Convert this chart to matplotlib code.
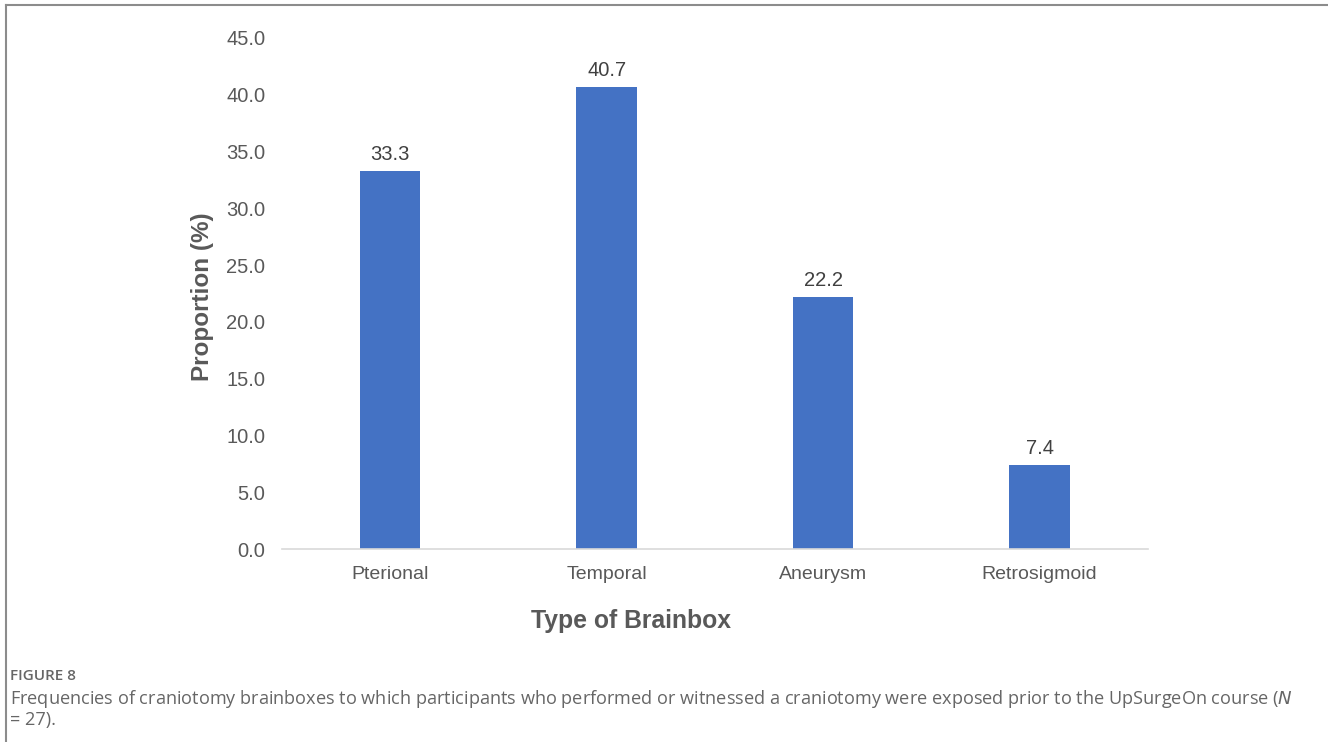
import matplotlib.pyplot as plt
from matplotlib.lines import Line2D

categories = ["Pterional", "Temporal", "Aneurysm", "Retrosigmoid"]
proportions = [33.3, 40.7, 22.2, 7.4]
y_ticks = [0, 5, 10, 15, 20, 25, 30, 35, 40, 45]

bar_color = "#4472C4"
text_color = "#595959"

fig = plt.figure(figsize=(13.28, 7.42), dpi=100)
ax = fig.add_axes([0.2123, 0.2601, 0.6521, 0.6887])

positions = range(len(categories))
bars = ax.bar(positions, proportions, width=0.28, color=bar_color, zorder=2)

for bar, value in zip(bars, proportions):
    ax.text(
        bar.get_x() + bar.get_width() / 2,
        value + 0.6,
        f"{value:.1f}",
        ha="center",
        va="bottom",
        fontsize=14.5,
        color="#404040",
        family="Liberation Sans",
    )

ax.set_xlim(-0.5, 3.5)
ax.set_ylim(0, 45)
ax.set_xticks(list(positions))
ax.set_xticklabels(categories, fontsize=14, color=text_color, family="Liberation Sans")
ax.set_yticks(y_ticks)
ax.set_yticklabels([f"{t:.1f}" for t in y_ticks], fontsize=14.5, color=text_color,
                   family="Liberation Sans")
ax.tick_params(axis="both", length=0)
ax.tick_params(axis="y", pad=12)
ax.tick_params(axis="x", pad=12)

for side in ["top", "right", "left"]:
    ax.spines[side].set_visible(False)
ax.spines["bottom"].set_color("#D9D9D9")
ax.spines["bottom"].set_linewidth(1.2)

ax.set_ylabel("Proportion (%)", fontsize=17.5, fontweight="bold", color=text_color,
              family="Liberation Sans")
ax.yaxis.set_label_coords(-0.078, 0.493)
ax.set_xlabel("Type of Brainbox", fontsize=17.8, fontweight="bold", color=text_color,
              family="Liberation Sans")
ax.xaxis.set_label_coords(0.403, -0.117)

# outer frame (top and left edges)
fig.add_artist(Line2D([6 / 1328, 1.0], [1 - 5 / 742, 1 - 5 / 742],
                      transform=fig.transFigure, color="#8C8C8C", linewidth=1.5))
fig.add_artist(Line2D([6 / 1328, 6 / 1328], [0.0, 1 - 5 / 742],
                      transform=fig.transFigure, color="#8C8C8C", linewidth=1.5))

caption_color = "#666666"
fig.text(10 / 1328, 1 - 676 / 742, "FIGURE 8", fontsize=11, fontweight="semibold",
         color=caption_color, family="Open Sans", va="center")
fig.text(10 / 1328, 1 - 699 / 742,
         "Frequencies of craniotomy brainboxes to which participants who performed or "
         "witnessed a craniotomy were exposed prior to the UpSurgeOn course ($\\it{N}$",
         fontsize=13.1, color=caption_color, family="Open Sans", va="center")
fig.text(10 / 1328, 1 - 720 / 742, "= 27).", fontsize=13.1, color=caption_color,
         family="Open Sans", va="center")

fig.savefig("out.png", dpi=100, facecolor="white")
